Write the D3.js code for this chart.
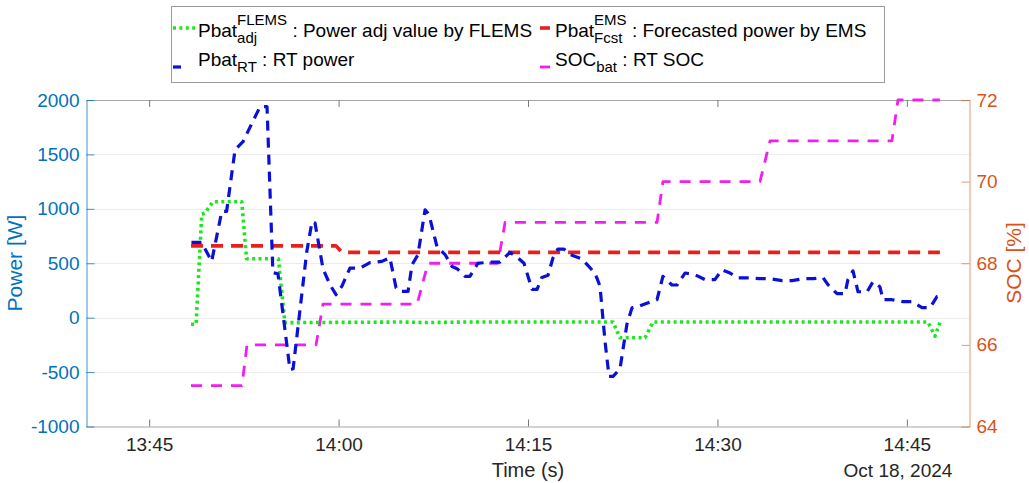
<!DOCTYPE html>
<html><head><meta charset="utf-8">
<script src="https://cdn.jsdelivr.net/npm/d3@7"></script>
<style>
html,body{margin:0;padding:0;background:#fff;}
svg{display:block;font-family:"Liberation Sans",Arial,Helvetica,sans-serif;}
</style></head>
<body><svg id="chart" width="1029" height="483"></svg>
<script>
// ---------- data ----------
const day = "2024-10-18 ";
const timeFLEMS = ["13:48:19","13:48:43","13:49:10","13:49:25","13:50:03","13:52:20","13:52:43","13:55:14","13:55:45","14:05:00","14:07:05","14:10:00","14:21:44","14:22:17","14:24:16","14:24:54","14:46:40","14:47:14","14:47:37"];
const pFLEMS   = [-60,-60,950,960,1065,1065,541,541,-46,-40,-45,-40,-40,-185,-185,-40,-40,-170,-45];

const timeEMS = ["13:48:19","13:59:48","14:00:16","14:47:37"];
const pEMS    = [660,660,600,600];

const timeRT = ["13:48:21","13:49:10","13:49:57","13:50:45","13:51:08","13:51:48","13:52:26","13:53:47","13:54:20","13:54:48","13:55:12","13:56:09","13:56:24","13:57:29","13:57:54","13:58:08","13:58:46","13:59:19","13:59:48","14:00:16","14:00:54","14:01:42","14:02:29","14:03:26","14:04:04","14:04:33","14:04:52","14:05:30","14:05:49","14:06:17","14:06:51","14:07:10","14:07:48","14:08:26","14:08:59","14:09:23","14:10:01","14:10:24","14:11:02","14:11:59","14:12:47","14:13:34","14:14:12","14:14:41","14:15:19","14:15:43","14:16:06","14:16:35","14:16:59","14:17:22","14:17:51","14:18:19","14:19:16","14:20:18","14:20:42","14:21:06","14:21:25","14:21:44","14:22:17","14:22:50","14:23:14","14:23:52","14:24:49","14:25:13","14:25:41","14:26:24","14:26:48","14:27:26","14:28:13","14:29:01","14:29:48","14:30:22","14:31:00","14:31:38","14:32:25","14:33:22","14:34:10","14:35:07","14:35:54","14:36:47","14:37:34","14:38:22","14:38:45","14:39:28","14:40:06","14:40:20","14:40:44","14:41:08","14:41:51","14:42:19","14:42:52","14:43:07","14:43:49","14:44:42","14:45:24","14:46:12","14:46:50","14:47:23","14:47:37"];
const pRT = [691,691,517,976,976,1541,1617,1939,1939,413,404,-477,-470,608,884,871,450,303,211,290,456,456,505,517,550,275,241,241,486,578,991,945,650,580,470,450,380,380,500,510,510,600,550,500,260,260,370,390,550,630,630,580,540,410,290,-220,-540,-540,-470,-60,90,110,150,165,380,300,300,410,395,350,350,440,410,365,365,358,358,340,340,358,358,367,303,220,220,349,430,238,238,330,284,165,165,147,147,92,92,193,200];

const timeSOC = ["13:48:19","13:52:21","13:52:45","13:58:13","13:58:46","14:06:13","14:07:05","14:12:37","14:13:11","14:25:13","14:25:41","14:33:22","14:34:10","14:43:49","14:44:18","14:47:37"];
const socBat  = [65,65,66,66,67,67,68,68,69,69,70,70,71,71,72,72];

const xDomain = ["13:40:00","14:50:00"];
const xTicks  = ["13:45:00","14:00:00","14:15:00","14:30:00","14:45:00"];
const yLeftTicks  = [-1000,-500,0,500,1000,1500,2000];
const yRightTicks = [64,66,68,70,72];

// ---------- setup ----------
const parse = d3.timeParse("%Y-%m-%d %H:%M:%S");
const T = s => parse(day + s);
const svg = d3.select("#chart");
const L = 86.5, R = 969.5, TOP = 100, BOT = 426.5;
const cBlue = "#0072BD", cOrange = "#D95319", cGray = "#262626";
const plain = d => String(d);
const TICKFS = 19;

const x  = d3.scaleTime().domain(xDomain.map(T)).range([86, 970]);
const yL = d3.scaleLinear().domain([-1000, 2000]).range([BOT, TOP]);
const yR = d3.scaleLinear().domain([64, 72]).range([BOT, TOP]);

// grid
svg.append("g").selectAll("line").data(yLeftTicks.filter(v => v > -1000 && v < 2000)).join("line")
  .attr("x1", L).attr("x2", R).attr("y1", d => Math.round(yL(d)) + 0.5).attr("y2", d => Math.round(yL(d)) + 0.5)
  .attr("stroke", "#ececec").attr("stroke-width", 1);

// top border with ticks
const gTop = svg.append("g").attr("transform", `translate(0,${TOP})`)
  .call(d3.axisTop(x).tickValues(xTicks.map(T)).tickSizeInner(-7).tickSizeOuter(0).tickFormat(""));
gTop.select(".domain").attr("stroke", "#a6a6a6");
gTop.selectAll(".tick line").attr("stroke", "#7a7a7a");

// bottom axis
const gBot = svg.append("g").attr("transform", `translate(0,${BOT})`)
  .call(d3.axisBottom(x).tickValues(xTicks.map(T)).tickSizeInner(-7).tickSizeOuter(0).tickPadding(11).tickFormat(d3.timeFormat("%H:%M")));
gBot.select(".domain").attr("stroke", "#a6a6a6");
gBot.selectAll(".tick line").attr("stroke", "#7a7a7a");
gBot.selectAll(".tick text").attr("fill", cGray).attr("font-size", TICKFS).attr("font-family", "Liberation Sans, Arial, sans-serif");

// left axis
const gL = svg.append("g").attr("transform", `translate(${L},0)`)
  .call(d3.axisLeft(yL).tickValues(yLeftTicks).tickSizeInner(-8).tickSizeOuter(0).tickPadding(7).tickFormat(plain));
gL.select(".domain").attr("stroke", cBlue).attr("stroke-opacity", 0.75);
gL.selectAll(".tick line").attr("stroke", cBlue).attr("stroke-opacity", 0.75);
gL.selectAll(".tick text").attr("fill", cBlue).attr("font-size", TICKFS).attr("font-family", "Liberation Sans, Arial, sans-serif");

// right axis
const gR = svg.append("g").attr("transform", `translate(${R},0)`)
  .call(d3.axisRight(yR).tickValues(yRightTicks).tickSizeInner(-8).tickSizeOuter(0).tickPadding(7).tickFormat(plain));
gR.select(".domain").attr("stroke", cOrange).attr("stroke-opacity", 0.6);
gR.selectAll(".tick line").attr("stroke", cOrange).attr("stroke-opacity", 0.6);
gR.selectAll(".tick text").attr("fill", cOrange).attr("font-size", TICKFS).attr("font-family", "Liberation Sans, Arial, sans-serif");

// axis titles
svg.append("text").attr("transform", "translate(22,263) rotate(-90)").attr("text-anchor", "middle")
  .attr("fill", cBlue).attr("font-size", 21).text("Power [W]");
svg.append("text").attr("transform", "translate(1021,263) rotate(-90)").attr("text-anchor", "middle")
  .attr("fill", cOrange).attr("font-size", 21).text("SOC [%]");
svg.append("text").attr("x", 528).attr("y", 477).attr("text-anchor", "middle")
  .attr("fill", cGray).attr("font-size", 20).text("Time (s)");
svg.append("text").attr("x", 898).attr("y", 477).attr("text-anchor", "middle")
  .attr("fill", cGray).attr("font-size", TICKFS).text("Oct 18, 2024");

// ---------- lines ----------
const mk = (times, vals) => times.map((t, i) => ({t: T(t), v: vals[i]}));
const lineL = d3.line().x(d => x(d.t)).y(d => yL(d.v));
const lineR = d3.line().x(d => x(d.t)).y(d => yR(d.v));

const styles = {
  flems: {stroke: "#1ee61e", width: 3.6, dash: "3,3.4"},
  ems:   {stroke: "#e8201c", width: 3.6, dash: "12,8"},
  rt:    {stroke: "#0a10d8", width: 3.2, dash: "10,7"},
  soc:   {stroke: "#f01ef0", width: 2.8, dash: "11,9"}
};
function draw(data, gen, st) {
  svg.append("path").datum(data).attr("d", gen).attr("fill", "none")
    .attr("stroke", st.stroke).attr("stroke-width", st.width).attr("stroke-dasharray", st.dash)
    .attr("stroke-linejoin", "round");
}
draw(mk(timeSOC, socBat), lineR, styles.soc);
draw(mk(timeFLEMS, pFLEMS), lineL, styles.flems);
draw(mk(timeEMS, pEMS), lineL, styles.ems);
draw(mk(timeRT, pRT), lineL, styles.rt);

// ---------- legend ----------
const leg = svg.append("g");
leg.append("rect").attr("x", 171.5).attr("y", 6.5).attr("width", 713).attr("height", 76)
  .attr("fill", "#fff").attr("stroke", "#9a9a9a").attr("stroke-width", 1);
const items = [
  {base: "Pbat", sup: "FLEMS", sub: "adj", desc: " : Power adj value by FLEMS", st: styles.flems, ix: 173, iw: 23, tx: 198, row: 0},
  {base: "Pbat", sup: "EMS", sub: "Fcst", desc: " : Forecasted power by EMS", st: styles.ems, ix: 540, iw: 10, tx: 555, row: 0},
  {base: "Pbat", sup: null, sub: "RT", desc: " : RT power", st: styles.rt, ix: 173, iw: 8, tx: 198, row: 1},
  {base: "SOC", sup: null, sub: "bat", desc: " : RT SOC", st: styles.soc, ix: 540, iw: 10, tx: 555, row: 1}
];
const FS = 19, FS2 = 15;
items.forEach(it => {
  const by = it.row === 0 ? 37 : 66;
  const iy = it.row === 0 ? 28 : 67;
  leg.append("line").attr("x1", it.ix).attr("x2", it.ix + it.iw).attr("y1", iy).attr("y2", iy)
    .attr("stroke", it.st.stroke).attr("stroke-width", it.st.width).attr("stroke-dasharray", it.st.dash);
  const b = leg.append("text").attr("x", it.tx).attr("y", by).attr("font-size", FS).attr("fill", "#000").text(it.base);
  let cx = it.tx + b.node().getComputedTextLength();
  let w = 0;
  if (it.sup) {
    const s = leg.append("text").attr("x", cx).attr("y", by - 12).attr("font-size", FS2).attr("fill", "#000").text(it.sup);
    w = Math.max(w, s.node().getComputedTextLength());
  }
  if (it.sub) {
    const s = leg.append("text").attr("x", cx).attr("y", by + 6).attr("font-size", FS2).attr("fill", "#000").text(it.sub);
    w = Math.max(w, s.node().getComputedTextLength());
  }
  cx += w;
  leg.append("text").attr("x", cx).attr("y", by).attr("font-size", FS).attr("fill", "#000")
    .attr("xml:space", "preserve").style("white-space", "pre").text(it.desc);
});
</script></body></html>
